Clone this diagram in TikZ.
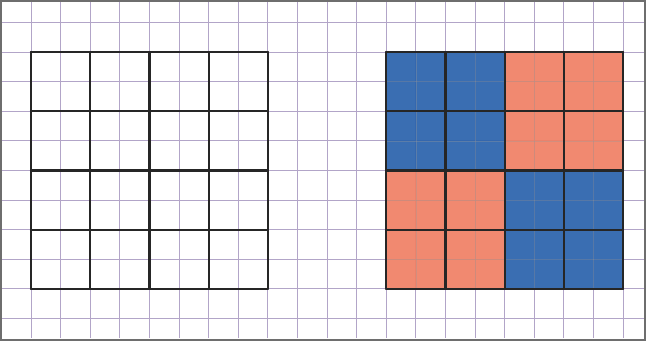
\documentclass[tikz,border=0pt]{standalone}
\definecolor{gridc}{RGB}{178,165,200}
\definecolor{pblue}{RGB}{42,98,172}
\definecolor{pred}{RGB}{240,128,100}
\definecolor{framec}{RGB}{110,110,110}
\tikzset{
  minorgrid/.style={draw=gridc, line width=0.9pt},
  thick grid/.style={draw=black!85, line width=2.2pt, line cap=round},
  bluefill/.style={fill=pblue, fill opacity=0.92},
  redfill/.style={fill=pred, fill opacity=0.92},
}
\begin{document}
\begin{tikzpicture}[x=1pt,y=-1pt]
\useasboundingbox (0,0) rectangle (646,341);
\fill[white] (0,0) rectangle (646,341);
% graph paper
\foreach \k in {0,...,21} {
  \draw[minorgrid] ({31+29.6*\k},2) -- ({31+29.6*\k},338);
}
\foreach \k in {-1,...,9} {
  \draw[minorgrid] (2,{52+29.6*\k}) -- (644,{52+29.6*\k});
}
% coloured squares
\fill[bluefill] (386.2,52) rectangle (504.6,170.4);
\fill[redfill] (504.6,52) rectangle (623,170.4);
\fill[redfill] (386.2,170.4) rectangle (504.6,288.8);
\fill[bluefill] (504.6,170.4) rectangle (623,288.8);
% faint grid lines through colour
\foreach \k in {13,15,17,19} {
  \draw[draw=black!40, line width=0.6pt, opacity=0.35] ({31+29.6*\k},52) -- ({31+29.6*\k},288.8);
}
\foreach \k in {1,3,5,7} {
  \draw[draw=black!40, line width=0.6pt, opacity=0.35] (386.2,{52+29.6*\k}) -- (623,{52+29.6*\k});
}
% thick lines, left square
\foreach \k in {0,2,4,6,8} {
  \draw[thick grid] ({31+29.6*\k},52) -- ({31+29.6*\k},288.8);
  \draw[thick grid] (31,{52+29.6*\k}) -- (267.8,{52+29.6*\k});
}
% thick lines, right square
\foreach \k in {0,2,4,6,8} {
  \draw[thick grid] ({386.2+29.6*\k},52) -- ({386.2+29.6*\k},288.8);
  \draw[thick grid] (386.2,{52+29.6*\k}) -- (623,{52+29.6*\k});
}
% frame
\draw[draw=framec, line width=2pt] (1,1) rectangle (645,339.5);
\end{tikzpicture}
\end{document}
